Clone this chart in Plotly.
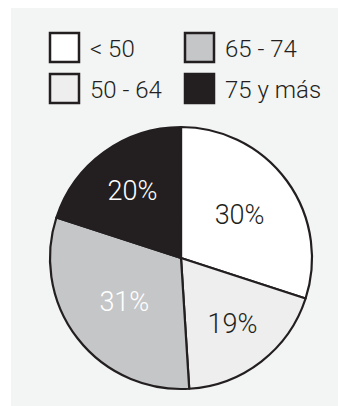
import plotly.graph_objects as go

# Age groups and their share of the total (%)
categories = ["< 50", "50 - 64", "65 - 74", "75 y más"]
shares = [30, 19, 31, 20]
fill_colors = ["#ffffff", "#eeeeee", "#c5c6c8", "#231f20"]
label_colors = ["#231f20", "#231f20", "#ffffff", "#ffffff"]

W, H = 338, 406
INK = "#231f20"
PANEL = "#f3f4f4"
FONT = "Roboto"


def px(x):
    return x / W


def py(y):
    return 1 - y / H


fig = go.Figure(
    go.Pie(
        labels=categories,
        values=shares,
        sort=False,
        direction="clockwise",
        rotation=0,
        marker=dict(colors=fill_colors, line=dict(color=INK, width=2.2)),
        texttemplate="%{value}%",
        textposition="inside",
        insidetextorientation="horizontal",
        insidetextfont=dict(family=FONT, size=27, weight=300,
                            color=label_colors),
        hoverinfo="label+percent",
        showlegend=False,
        domain=dict(x=[px(50), px(312)], y=[py(389), py(127)]),
    )
)

shapes = [
    # light panel behind the chart
    dict(type="rect", xref="paper", yref="paper", layer="below",
         x0=px(11), x1=1.0, y0=0.0, y1=py(8),
         fillcolor=PANEL, line=dict(width=0)),
]
annotations = []

# hand-laid legend: two columns, two rows of square swatches
col_x = [50, 185]
row_y = [33, 74]
box = 29
for i, name in enumerate(categories):
    col, row = i // 2, i % 2
    x0, y0 = col_x[col], row_y[row]
    shapes.append(dict(type="rect", xref="paper", yref="paper",
                       x0=px(x0), x1=px(x0 + box), y0=py(y0 + box), y1=py(y0),
                       fillcolor=fill_colors[i], line=dict(color=INK, width=2.5)))
    annotations.append(dict(text=name, xref="paper", yref="paper",
                            x=px(x0 + box + 9), y=py(y0 + box / 2 + 1),
                            xanchor="left", yanchor="middle", showarrow=False,
                            font=dict(family=FONT, size=24, weight=300, color=INK)))

fig.update_layout(
    width=W, height=H,
    margin=dict(l=0, r=0, t=0, b=0),
    paper_bgcolor="#ffffff",
    plot_bgcolor="#ffffff",
    shapes=shapes,
    annotations=annotations,
)

fig.write_html("out.html")
